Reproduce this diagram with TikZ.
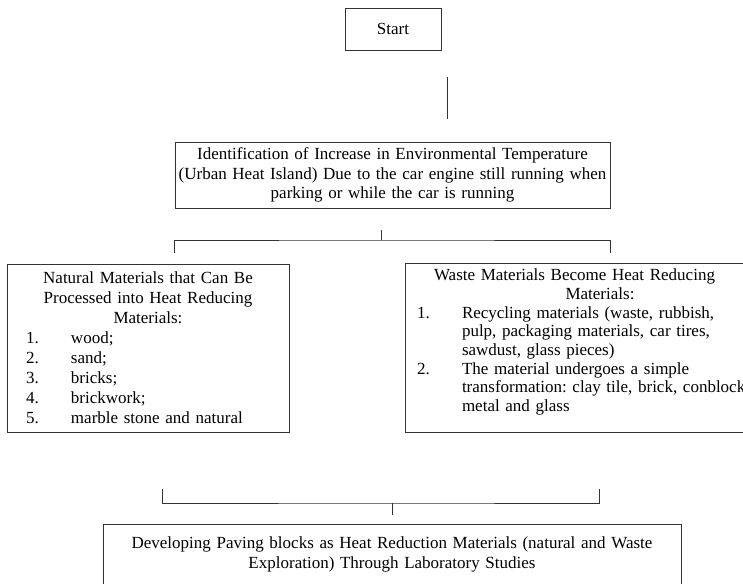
\documentclass[tikz,border=0pt]{standalone}
\usepackage{fontspec}
\setmainfont{Liberation Serif}
\frenchspacing
\newcommand{\listnum}[3]{\hspace*{#1}\makebox[45pt][l]{#2}#3}
\begin{document}
\begin{tikzpicture}[x=1pt,y=-1pt]
    \tikzstyle{box}=[rectangle,draw=black!80,line width=0.9pt,inner sep=0pt,font=\fontsize{17}{19.5}\selectfont]
    \tikzstyle{link}=[draw=black!80,line width=0.9pt]
    \useasboundingbox (0,0) rectangle (743,583);

    \node[box,minimum width=96pt,minimum height=42pt] (start) at (393,29) {Start};

    \node[box,minimum width=435pt,minimum height=66pt,text width=435pt,align=center] (ident) at (392.5,175)
        {Identification of Increase in Environmental Temperature\\
         (Urban Heat Island) Due to the car engine still running when\\
         parking or while the car is running};

    \node[box,minimum width=282pt,minimum height=168pt,text width=282pt,
          font=\fontsize{17}{20}\selectfont] (natural) at (148,348)
        {\centering Natural Materials that Can Be\\Processed into Heat Reducing\\Materials:\par
         \raggedright
         \listnum{19pt}{1.}{wood;}\\
         \listnum{19pt}{2.}{sand;}\\
         \listnum{19pt}{3.}{bricks;}\\
         \listnum{19pt}{4.}{brickwork;}\\
         \listnum{19pt}{5.}{marble stone and natural}\par};

    \node[box,minimum width=390pt,minimum height=169pt,text width=390pt,
          font=\fontsize{17}{18.7}\selectfont] (waste) at (600,347.5)
        {\centering\hspace*{-51pt}Waste Materials Become Heat Reducing\\Materials:\par
         \raggedright
         \listnum{12pt}{1.}{Recycling materials (waste, rubbish,}\\
         \hspace*{57pt}pulp, packaging materials, car tires,\\
         \hspace*{57pt}sawdust, glass pieces)\\
         \listnum{12pt}{2.}{The material undergoes a simple}\\
         \hspace*{57pt}transformation: clay tile, brick, conblock,\\
         \hspace*{57pt}metal and glass\\[-4pt]
         \mbox{}\par};

    \node[box,minimum width=578pt,minimum height=98pt,text width=578pt,align=center,
          font=\fontsize{17}{20}\selectfont] (paving) at (392,573)
        {Developing Paving blocks as Heat Reduction Materials (natural and Waste\\
         Exploration) Through Laboratory Studies\\
         \mbox{}\\
         \mbox{}};

    % free line under the start box
    \coordinate (stemtop) at (447,77);
    \coordinate (stembot) at (447,119);
    \draw[link] (stemtop) -- (stembot);

    % upper bracket
    \coordinate (ttick) at (381,230);
    \coordinate (tsplit) at (381,240);
    \coordinate (tleft) at (174,253);
    \coordinate (tright) at (610,253);
    \draw[link] (ttick) -- (tsplit);
    \draw[link] (tleft) |- (tsplit) -| (tright);

    % lower bracket
    \coordinate (bleft) at (162,489);
    \coordinate (bright) at (599,489);
    \coordinate (bsplit) at (392,503);
    \coordinate (btick) at (392,515);
    \draw[link] (bleft) |- (bsplit) -| (bright);
    \draw[link] (bsplit) -- (btick);
\end{tikzpicture}
\end{document}
